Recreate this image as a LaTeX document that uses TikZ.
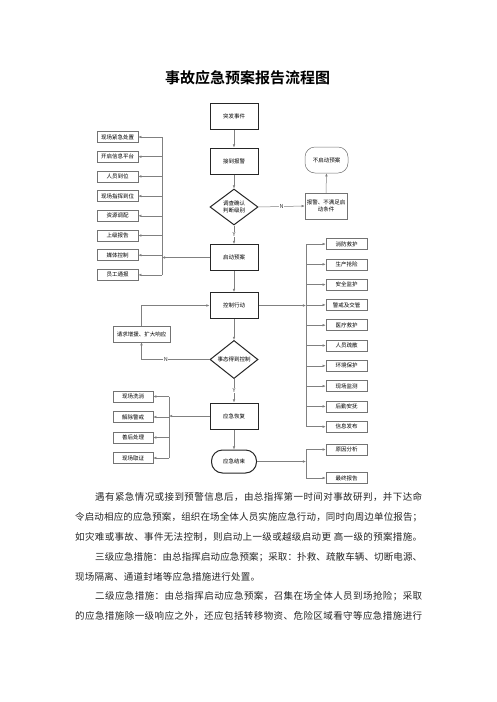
\documentclass[tikz,border=0pt]{standalone}
\usepackage{fontspec}
\setmainfont{Noto Sans CJK SC}[BoldFont={Noto Sans CJK SC Bold}]
\usetikzlibrary{
  arrows.meta,
  positioning,
  shapes.geometric,
}
\newcommand\boxfont{\fontsize{5.5pt}{6.6pt}\selectfont}
\newcommand\spreadline[2]{\hbox to #1{\spreadchars#2\relax\relax}}
\def\spreadchars#1#2{#1\ifx\relax#2\else\hfil\expandafter\spreadchars\expandafter#2\fi}
\tikzstyle{mainbox} = [
  rectangle,
  draw=black!85,
  line width=1pt,
  minimum width=48pt,
  minimum height=26pt,
  inner sep=1pt,
  align=center,
  font=\boxfont,
]
\tikzstyle{sidebox} = [
  rectangle,
  draw=black!55,
  line width=0.5pt,
  minimum width=41pt,
  minimum height=11pt,
  inner sep=0.5pt,
  align=center,
  font=\boxfont,
]
\tikzstyle{decision} = [diamond, draw=black!85, line width=1pt, minimum width=48pt, minimum height=36pt, inner sep=0pt, align=center, font=\boxfont]
\tikzstyle{terminal} = [rectangle, rounded corners=11pt, draw=black!85, line width=1pt, minimum width=45pt, minimum height=23pt, font=\boxfont]
\tikzstyle{arrow} = [-{Latex[length=3.2pt,width=2.6pt]}, line width=0.5pt, black!50]
\tikzstyle{busline} = [line width=0.5pt, black!50]
\tikzstyle{yn} = [font=\fontsize{5.5pt}{6pt}\selectfont, fill=white, inner sep=0.5pt, text=black!80]
\tikzstyle{bodyline} = [anchor=west, inner sep=0pt, font=\fontsize{9.5pt}{11pt}\selectfont, text=black!85]

\begin{document}
\begin{tikzpicture}[x=1pt,y=-1pt]
      \useasboundingbox (0,0) rectangle (496,702);
      \fill[white] (0,0) rectangle (496,702);

      \node[font=\bfseries\fontsize{15pt}{18pt}\selectfont] (title) at (247.5,78) {事故应急预案报告流程图};

      % main column
      \node[mainbox] (event)   at (234,116.5) {突发事件};
      \node[mainbox] (alarm)   at (234,161)   {接到报警};
      \node[decision] (check)  at (234,207)   {调查确认\\判断级别};
      \node[mainbox] (start)   at (234,257.5) {启动预案};
      \node[mainbox] (control) at (234,305.5) {控制行动};
      \node[decision] (ctrlq)  at (234,359.5) {事态得到控制};
      \node[mainbox] (recover) at (234,416)   {应急恢复};
      \node[terminal] (finish) at (234,461.5) {应急结束};

      % no plan branch
      \node[mainbox,minimum width=42pt,line width=0.5pt,draw=black!55] (nocond) at (326,206) {报警、不满足启\\动条件};
      \node[terminal,minimum width=43pt,minimum height=26pt,rounded corners=10pt,line width=0.5pt,draw=black!55] (noplan) at (326.5,160) {不启动预案};

      % left column
      \node[sidebox] (site) at (117.5,137) {现场紧急处置};
      \node[sidebox] (info)     [below=8.2pt of site]     {开启信息平台};
      \node[sidebox] (staff)    [below=8.2pt of info]     {人员到位};
      \node[sidebox] (command)  [below=8.2pt of staff]    {现场指挥到位};
      \node[sidebox] (resource) [below=8.2pt of command]  {资源调配};
      \node[sidebox] (report)   [below=8.2pt of resource] {上级报告};
      \node[sidebox] (media)    [below=8.2pt of report]   {媒体控制};
      \node[sidebox] (notice)   [below=8.2pt of media]    {员工通报};

      % right column
      \node[sidebox] (fire) at (346.5,244) {消防救护};
      \node[sidebox] (rescue)   [below=8.8pt of fire]     {生产抢险};
      \node[sidebox] (safety)   [below=8.8pt of rescue]   {安全监护};
      \node[sidebox] (traffic)  [below=8.8pt of safety]   {警戒及交管};
      \node[sidebox] (medical)  [below=8.8pt of traffic]  {医疗救护};
      \node[sidebox] (evacuate) [below=8.8pt of medical]  {人员疏散};
      \node[sidebox] (environ)  [below=8.8pt of evacuate] {环境保护};
      \node[sidebox] (monitor)  [below=8.8pt of environ]  {现场监测};
      \node[sidebox] (logistic) [below=8.8pt of monitor]  {后勤安抚};
      \node[sidebox] (publish)  [below=8.8pt of logistic] {信息发布};

      % request for help
      \node[sidebox,minimum width=57pt,minimum height=16pt] (request) at (141.5,334) {请求增援、扩大响应};

      % after recovery
      \node[sidebox,minimum width=40pt] (decon) at (133,396.5) {现场洗消};
      \node[sidebox,minimum width=40pt] (lift)      [below=9pt of decon]     {解除警戒};
      \node[sidebox,minimum width=40pt] (aftercare) [below=9pt of lift]      {善后处理};
      \node[sidebox,minimum width=40pt] (evidence)  [below=9pt of aftercare] {现场取证};

      \node[sidebox] (cause) at (346.5,449.5) {原因分析};
      \node[sidebox] (final) at (346.5,478)   {最终报告};

      % bus lines
      \coordinate (lbus) at (162,0);
      \coordinate (rbus) at (306,0);
      \coordinate (bbus) at (169,0);

      \draw[arrow] (event.south) -- (alarm.north);
      \draw[arrow] (alarm.south) -- (check.north);
      \draw[arrow] (check.east) -- node[yn]{N} (nocond.west);
      \draw[arrow] (nocond.north) -- (noplan.south);
      \draw[arrow] (check.south) -- node[yn]{Y} (start.north);
      \draw[arrow] (start.south) -- (control.north);
      \draw[arrow] (control.south) -- (ctrlq.north);
      \draw[arrow] (ctrlq.south) -- node[yn]{Y} (recover.north);
      \draw[arrow] (recover.south) -- (finish.north);

      \draw[arrow] (ctrlq.west) -| node[yn,pos=0.32]{N} (request.south);
      \draw[arrow] (request.north) |- (control.west);

      \draw[arrow] (start.west) -- (start.west -| lbus);
      \draw[busline] (site.east -| lbus) -- (notice.east -| lbus);
      \draw[arrow] (site.east -| lbus) -- (site.east);
      \draw[arrow] (info.east -| lbus) -- (info.east);
      \draw[arrow] (staff.east -| lbus) -- (staff.east);
      \draw[arrow] (command.east -| lbus) -- (command.east);
      \draw[arrow] (resource.east -| lbus) -- (resource.east);
      \draw[arrow] (report.east -| lbus) -- (report.east);
      \draw[arrow] (media.east -| lbus) -- (media.east);
      \draw[arrow] (notice.east -| lbus) -- (notice.east);

      \draw[arrow] (control.east) -- (control.east -| rbus);
      \draw[busline] (fire.west -| rbus) -- (publish.west -| rbus);
      \draw[arrow] (fire.west -| rbus) -- (fire.west);
      \draw[arrow] (rescue.west -| rbus) -- (rescue.west);
      \draw[arrow] (safety.west -| rbus) -- (safety.west);
      \draw[arrow] (traffic.west -| rbus) -- (traffic.west);
      \draw[arrow] (medical.west -| rbus) -- (medical.west);
      \draw[arrow] (evacuate.west -| rbus) -- (evacuate.west);
      \draw[arrow] (environ.west -| rbus) -- (environ.west);
      \draw[arrow] (monitor.west -| rbus) -- (monitor.west);
      \draw[arrow] (logistic.west -| rbus) -- (logistic.west);
      \draw[arrow] (publish.west -| rbus) -- (publish.west);

      \draw[arrow] (recover.west) -- (recover.west -| bbus);
      \draw[busline] (decon.east -| bbus) -- (evidence.east -| bbus);
      \draw[arrow] (decon.east -| bbus) -- (decon.east);
      \draw[arrow] (lift.east -| bbus) -- (lift.east);
      \draw[arrow] (aftercare.east -| bbus) -- (aftercare.east);
      \draw[arrow] (evidence.east -| bbus) -- (evidence.east);

      \draw[arrow] (finish.east) -- (finish.east -| rbus);
      \draw[busline] (cause.west -| rbus) -- (final.west -| rbus);
      \draw[arrow] (cause.west -| rbus) -- (cause.west);
      \draw[arrow] (final.west -| rbus) -- (final.west);

      % text under the chart
      \node[bodyline] (para1a) at (95,497) {\spreadline{327pt}{遇有紧急情况或接到预警信息后，由总指挥第一时间对事故研判，并下达命}};
      \node[bodyline] (para1b) at (75,517) {\spreadline{347pt}{令启动相应的应急预案，组织在场全体人员实施应急行动，同时向周边单位报告；}};
      \node[bodyline] (para1c) at (75,537) {\spreadline{347pt}{如灾难或事故、事件无法控制，则启动上一级或越级启动更~高一级的预案措施。}};
      \node[bodyline] (para2a) at (95,557) {\spreadline{327pt}{三级应急措施：由总指挥启动应急预案；采取：扑救、疏散车辆、切断电源、}};
      \node[bodyline] (para2b) at (75,577) {\spreadline{185pt}{现场隔离、通道封堵等应急措施进行处置。}};
      \node[bodyline] (para3a) at (95,596.5) {\spreadline{327pt}{二级应急措施：由总指挥启动应急预案，召集在场全体人员到场抢险；采取}};
      \node[bodyline] (para3b) at (75,616) {\spreadline{347pt}{的应急措施除一级响应之外，还应包括转移物资、危险区域看守等应急措施进行}};

    \end{tikzpicture}
\end{document}
